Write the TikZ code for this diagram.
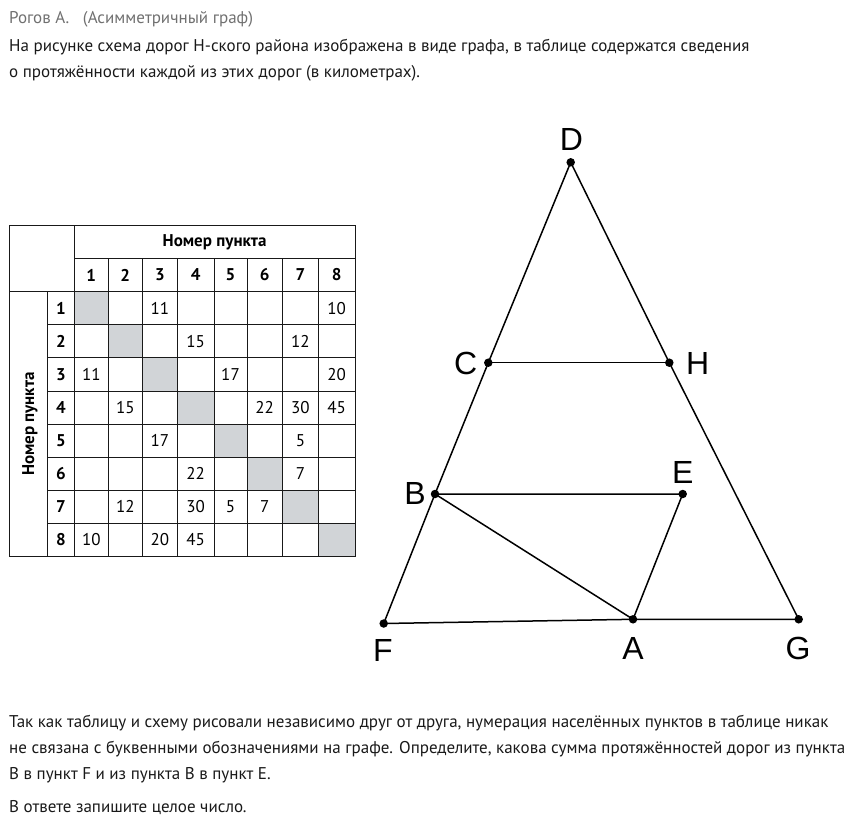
\documentclass[tikz,border=0pt]{standalone}
\usepackage{fontspec}
\setmainfont{PT Sans}
\newfontfamily\graphfont{Liberation Sans}
\definecolor{diaggray}{RGB}{209,212,215}
\definecolor{authgray}{RGB}{112,112,112}
\definecolor{textblack}{RGB}{25,25,25}

\begin{document}
\begin{tikzpicture}[x=1pt,y=-1pt,
  dot/.style={circle,fill=black,inner sep=0pt,minimum size=8.5pt},
  lbl/.style={font=\graphfont\fontsize{32}{32}\selectfont,inner sep=0pt},
  road/.style={line width=1.5pt},
  txt/.style={anchor=base west,inner sep=0pt,text=textblack,font=\fontsize{17}{17}\selectfont},
  tab/.style={line width=0.9pt,draw=textblack},
  head/.style={inner sep=0pt,font=\bfseries\fontsize{17}{17}\selectfont},
  cell/.style={inner sep=0pt,font=\fontsize{17}{17}\selectfont}]
\useasboundingbox (0,0) rectangle (861,821);

% Text above
\node[txt,text=authgray] (author) at (9,24) {Рогов А.\ \ \ (Асимметричный граф)};
\node[txt] (q1) at (9,52) {На рисунке схема дорог Н-ского района изображена в виде графа, в таблице содержатся сведения};
\node[txt] (q2) at (9,77.5) {о протяжённости каждой из этих дорог (в километрах).};

% Diagonal cells
\foreach \i/\xa/\xb in {1/74.3/108.3,2/108.3/142.3,3/142.3/177.5,4/177.5/214,
  5/214/247,6/247/282.5,7/282.5/318.3,8/318.3/355}
  \fill[diaggray] (\xa,{258.6+33.1*\i}) rectangle (\xb,{291.7+33.1*\i});

% Table grid
\draw[tab] (9.3,225.3) rectangle (355,556.5);
\draw[tab] (74.3,225.3) -- (74.3,556.5);
\draw[tab] (74.3,258.3) -- (355,258.3);
\draw[tab] (9.3,291.7) -- (355,291.7);
\draw[tab] (47.3,291.7) -- (47.3,556.5);
\foreach \x in {108.3,142.3,177.5,214,247,282.5,318.3}
  \draw[tab] (\x,258.3) -- (\x,556.5);
\foreach \i in {1,...,7}
  \draw[tab] (47.3,{291.7+33.1*\i}) -- (355,{291.7+33.1*\i});

% Headers
\node[head] (colhead) at (214.6,241.8) {Номер пункта};
\node[head,rotate=90] (rowhead) at (30,424.1) {Номер пункта};
\foreach \c/\x in {1/91.3,2/125.3,3/159.9,4/195.7,5/230.5,6/264.7,7/300.4,8/336.6}
  \node[head] (h\c) at (\x,275) {\c};
\foreach \r in {1,...,8}
  \node[head] (r\r) at (61,{308.25+33.1*(\r-1)}) {\r};

% Distances
\foreach \r/\c/\v in {1/3/11,1/8/10,2/4/15,2/7/12,3/1/11,3/5/17,3/8/20,
  4/2/15,4/6/22,4/7/30,4/8/45,5/3/17,5/7/5,6/4/22,6/7/7,
  7/2/12,7/4/30,7/5/5,7/6/7,8/1/10,8/3/20,8/4/45}
  \node[cell] (d\r\c) at (h\c |- r\r) {\v};

% Points
\node[dot] (D) at (570.7,162.3) {};
\node[dot] (C) at (488.3,362.7) {};
\node[dot] (H) at (669.3,362.7) {};
\node[dot] (B) at (435,494) {};
\node[dot] (E) at (682.7,494) {};
\node[dot] (F) at (383.7,623.5) {};
\node[dot] (A) at (633,619.3) {};
\node[dot] (G) at (798.7,619.3) {};

% Roads
\draw[road] (D.center) -- (C.center) -- (B.center) -- (F.center) -- (A.center) -- (G.center) -- (H.center) -- (D.center);
\draw[road] (C.center) -- (H.center);
\draw[road] (B.center) -- (E.center) -- (A.center) -- (B.center);

% Letters
\node[lbl] (lD) at (571.5,139) {D};
\node[lbl] (lC) at (465.7,363) {C};
\node[lbl] (lH) at (697.7,363) {H};
\node[lbl] (lE) at (682.7,472) {E};
\node[lbl] (lB) at (415,493) {B};
\node[lbl] (lF) at (383,650) {F};
\node[lbl] (lA) at (633,648) {A};
\node[lbl] (lG) at (798,648) {G};

% Text below
\node[txt] (p1) at (9,727.7) {Так как таблицу и схему рисовали независимо друг от друга, нумерация населённых пунктов в таблице никак};
\node[txt] (p2) at (9,753.3) {не связана с буквенными обозначениями на графе. Определите, какова сумма протяжённостей дорог из пункта};
\node[txt] (p3) at (9,779) {В в пункт F и из пункта В в пункт Е.};
\node[txt] (p4) at (9,812.7) {В ответе запишите целое число.};
\end{tikzpicture}
\end{document}
